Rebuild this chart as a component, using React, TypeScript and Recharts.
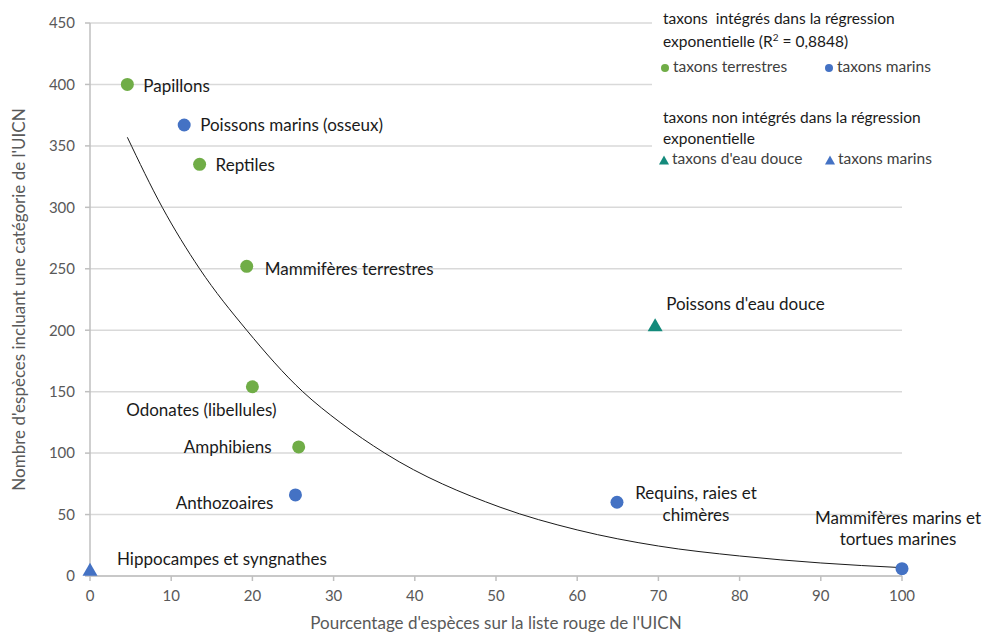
import { CartesianGrid, Scatter, ScatterChart, XAxis, YAxis } from 'recharts'

// taxons intégrés dans la régression
const terrestrialNames = ['Papillons', 'Reptiles', 'Mammifères terrestres', 'Odonates (libellules)', 'Amphibiens']
const terrestrialX = [4.6, 13.5, 19.3, 20.0, 25.7]
const terrestrialY = [400, 335, 252, 154, 105]

const marineNames = [
  'Poissons marins (osseux)',
  'Anthozoaires',
  'Requins, raies et chimères',
  'Mammifères marins et tortues marines',
]
const marineX = [11.6, 25.3, 64.9, 100]
const marineY = [367, 66, 60, 6]

// taxons non intégrés
const freshwaterNames = ["Poissons d'eau douce"]
const freshwaterX = [69.6]
const freshwaterY = [204]

const marineOutNames = ['Hippocampes et syngnathes']
const marineOutX = [0]
const marineOutY = [5]

// courbe de régression
const curveX = [4.6, 8.9, 13.5, 19.3, 26.2, 30.8, 36.3, 50.5, 60, 70, 80, 90, 100]
const curveY = [357, 300, 250, 200, 150, 125, 100, 56, 37.5, 24.4, 16.3, 10.6, 6.8]

const xTicks = [0, 10, 20, 30, 40, 50, 60, 70, 80, 90, 100]
const yTicks = [0, 50, 100, 150, 200, 250, 300, 350, 400, 450]

const GREEN = '#70ad47'
const BLUE = '#4472c4'
const TEAL = '#138a7b'
const FONT = 'Lato, "Open Sans", sans-serif'

const labelPlacement: Record<string, { dx: number; dy: number; anchor: 'start' | 'middle' | 'end'; lines: string[]; step?: number }> = {
  Papillons: { dx: 16, dy: 1, anchor: 'start', lines: ['Papillons'] },
  'Poissons marins (osseux)': { dx: 16, dy: 0, anchor: 'start', lines: ['Poissons marins (osseux)'] },
  Reptiles: { dx: 16, dy: 0, anchor: 'start', lines: ['Reptiles'] },
  'Mammifères terrestres': { dx: 18, dy: 2, anchor: 'start', lines: ['Mammifères terrestres'] },
  'Odonates (libellules)': { dx: -51, dy: 23, anchor: 'middle', lines: ['Odonates (libellules)'] },
  Amphibiens: { dx: -27, dy: 0, anchor: 'end', lines: ['Amphibiens'] },
  Anthozoaires: { dx: -22, dy: 8, anchor: 'end', lines: ['Anthozoaires'] },
  'Hippocampes et syngnathes': { dx: 27, dy: -11, anchor: 'start', lines: ['Hippocampes et syngnathes'] },
  'Requins, raies et chimères': { dx: 79, dy: -10, anchor: 'middle', lines: ['Requins, raies et', 'chimères'], step: 22 },
  'Mammifères marins et tortues marines': {
    dx: -4,
    dy: -51,
    anchor: 'middle',
    lines: ['Mammifères marins et', 'tortues marines'],
    step: 21,
  },
  "Poissons d'eau douce": { dx: 11, dy: -22, anchor: 'start', lines: ["Poissons d'eau douce"] },
}

function toPoints(names: string[], xs: number[], ys: number[]) {
  return names.map((name, i) => ({ name, x: xs[i], y: ys[i] }))
}

const terrestrial = toPoints(terrestrialNames, terrestrialX, terrestrialY)
const marine = toPoints(marineNames, marineX, marineY)
const freshwater = toPoints(freshwaterNames, freshwaterX, freshwaterY)
const marineOut = toPoints(marineOutNames, marineOutX, marineOutY)
const curve = curveX.map((x, i) => ({ x, y: curveY[i] }))

function makeShape(kind: 'circle' | 'triangle', color: string) {
  return (props: any) => {
    const { cx, cy, payload } = props
    const place = labelPlacement[payload.name]
    return (
      <g>
        {kind === 'circle' ? (
          <circle cx={cx} cy={cy} r={6.5} fill={color} />
        ) : (
          <polygon points={`${cx},${cy - 7} ${cx - 7.5},${cy + 6} ${cx + 7.5},${cy + 6}`} fill={color} />
        )}
        {place &&
          place.lines.map((line, i) => (
            <text
              key={line}
              x={cx + place.dx}
              y={cy + place.dy + i * (place.step ?? 0)}
              textAnchor={place.anchor}
              dominantBaseline="central"
              fontSize={17}
              fontFamily={FONT}
              fill="#1a1a1a"
            >
              {line}
            </text>
          ))}
      </g>
    )
  }
}

function Marker({ kind, color }: { kind: 'circle' | 'triangle'; color: string }) {
  return (
    <svg width={10} height={10} style={{ marginRight: 3, verticalAlign: '-1px' }}>
      {kind === 'circle' ? <circle cx={5} cy={5} r={4} fill={color} /> : <polygon points="5,0.5 0,9.5 10,9.5" fill={color} />}
    </svg>
  )
}

function LegendLine({ top, left, color, children }: { top: number; left: number; color?: string; children: any }) {
  return (
    <div
      style={{
        position: 'absolute',
        top: top - 11,
        left,
        height: 22,
        lineHeight: '22px',
        fontSize: 15.5,
        color: color ?? '#1a1a1a',
        whiteSpace: 'nowrap',
      }}
    >
      {children}
    </div>
  )
}

function LegendBlock() {
  const grey = '#404040'
  return (
    <div
      style={{
        position: 'absolute',
        left: 652,
        top: 4,
        width: 300,
        height: 170,
        background: '#fff',
        fontFamily: FONT,
      }}
    >
      <LegendLine top={14} left={11}>taxons&nbsp; intégrés dans la régression</LegendLine>
      <LegendLine top={37} left={11}>
        exponentielle (R<sup style={{ fontSize: 10, lineHeight: 0 }}>2</sup> = 0,8848)
      </LegendLine>
      <LegendLine top={62} left={8} color={grey}>
        <Marker kind="circle" color={GREEN} />
        taxons terrestres
      </LegendLine>
      <LegendLine top={62} left={172} color={grey}>
        <Marker kind="circle" color={BLUE} />
        taxons marins
      </LegendLine>
      <LegendLine top={113} left={11}>taxons non intégrés dans la régression</LegendLine>
      <LegendLine top={134} left={11}>exponentielle</LegendLine>
      <LegendLine top={154} left={7} color={grey}>
        <Marker kind="triangle" color={TEAL} />
        taxons d'eau douce
      </LegendLine>
      <LegendLine top={154} left={173} color={grey}>
        <Marker kind="triangle" color={BLUE} />
        taxons marins
      </LegendLine>
    </div>
  )
}

export default function App() {
  const tick = { fill: '#595959', fontSize: 15, fontFamily: FONT }
  return (
    <div style={{ position: 'absolute', left: 0, top: 0, width: 987, height: 636, background: '#fff' }}>
      <ScatterChart width={987} height={636} margin={{ top: 23, right: 85, bottom: 0, left: 0 }}>
        <CartesianGrid horizontal vertical={false} stroke="#d9d9d9" strokeWidth={1.5} />
        <XAxis
          type="number"
          dataKey="x"
          domain={[0, 100]}
          ticks={xTicks}
          interval={0}
          height={60}
          tick={tick}
          tickSize={5}
          tickMargin={9}
          stroke="#bfbfbf"
          strokeWidth={1.5}
          label={(p: any) => (
            <text
              x={p.viewBox.x + p.viewBox.width / 2}
              y={622}
              textAnchor="middle"
              dominantBaseline="central"
              fontSize={17}
              fontFamily={FONT}
              fill="#595959"
            >
              Pourcentage d'espèces sur la liste rouge de l'UICN
            </text>
          )}
        />
        <YAxis
          type="number"
          dataKey="y"
          domain={[0, 450]}
          ticks={yTicks}
          interval={0}
          width={90}
          tick={tick}
          tickSize={5}
          tickMargin={10}
          stroke="#bfbfbf"
          strokeWidth={1.5}
          label={(p: any) => {
            const cy = p.viewBox.y + p.viewBox.height / 2
            return (
              <text
                x={18}
                y={cy}
                transform={`rotate(-90 18 ${cy})`}
                textAnchor="middle"
                dominantBaseline="central"
                fontSize={17}
                fontFamily={FONT}
                fill="#595959"
              >
                Nombre d'espèces incluant une catégorie de l'UICN
              </text>
            )
          }}
        />
        <Scatter
          data={curve}
          line={{ stroke: '#1a1a1a', strokeWidth: 1 }}
          lineJointType="monotoneX"
          shape={() => <g />}
          isAnimationActive={false}
        />
        <Scatter data={terrestrial} shape={makeShape('circle', GREEN)} isAnimationActive={false} />
        <Scatter data={marine} shape={makeShape('circle', BLUE)} isAnimationActive={false} />
        <Scatter data={freshwater} shape={makeShape('triangle', TEAL)} isAnimationActive={false} />
        <Scatter data={marineOut} shape={makeShape('triangle', BLUE)} isAnimationActive={false} />
      </ScatterChart>
      <LegendBlock />
    </div>
  )
}
